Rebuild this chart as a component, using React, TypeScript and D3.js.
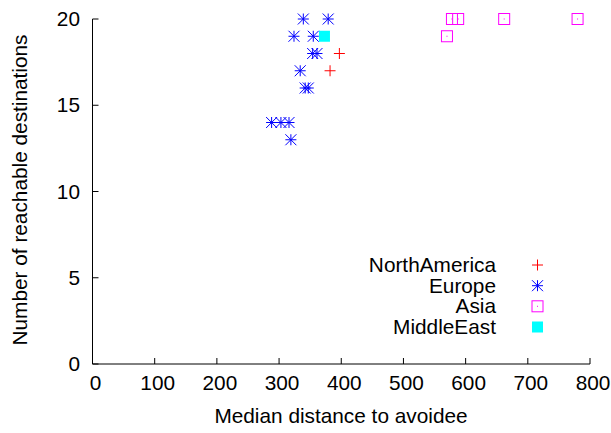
import React from "react";
import * as d3 from "d3";

const xTicks = [0, 100, 200, 300, 400, 500, 600, 700, 800];
const yTicks = [0, 5, 10, 15, 20];

const northAmericaX = [397, 382];
const northAmericaY = [18, 17];
const europeX = [339, 379, 324, 355, 354, 361, 334, 342, 347, 288, 303, 316, 319];
const europeY = [20, 20, 19, 19, 18, 18, 17, 16, 16, 14, 14, 14, 13];
const asiaX = [578, 588, 662, 780, 570];
const asiaY = [20, 20, 20, 20, 19];
const middleEastX = [373];
const middleEastY = [19];

const seriesNames = ["NorthAmerica", "Europe", "Asia", "MiddleEast"];

const W = 611;
const H = 433;
const FONT = "'Liberation Sans', Arial, Helvetica, sans-serif";
const FS = 20.8;

type Kind = "plus" | "star" | "box" | "fill";

function Marker({ x, y, kind }: { x: number; y: number; kind: Kind }) {
  const r = 5.5;
  if (kind === "plus") {
    return (
      <path d={`M${x - r},${y}H${x + r}M${x},${y - r}V${y + r}`} stroke="#ff0000" strokeWidth={1} fill="none" />
    );
  }
  if (kind === "star") {
    return (
      <path
        d={`M${x - r},${y}H${x + r}M${x},${y - r}V${y + r}M${x - r},${y - r}L${x + r},${y + r}M${x - r},${y + r}L${x + r},${y - r}`}
        stroke="#0000ff"
        strokeWidth={1}
        fill="none"
      />
    );
  }
  if (kind === "box") {
    return (
      <g>
        <rect x={x - r} y={y - r} width={2 * r} height={2 * r} stroke="#ff00ff" strokeWidth={1} fill="none" />
        <rect x={x - 0.5} y={y - 0.5} width={1} height={1} fill="#ff00ff" />
      </g>
    );
  }
  return <rect x={x - r} y={y - r} width={2 * r} height={2 * r} fill="#00ffff" />;
}

export default function App() {
  const x = d3.scaleLinear().domain([0, 800]).range([92.5, 590]);
  const y = d3.scaleLinear().domain([0, 20]).range([364, 19]);

  const series: { xs: number[]; ys: number[]; kind: Kind }[] = [
    { xs: northAmericaX, ys: northAmericaY, kind: "plus" },
    { xs: europeX, ys: europeY, kind: "star" },
    { xs: asiaX, ys: asiaY, kind: "box" },
    { xs: middleEastX, ys: middleEastY, kind: "fill" },
  ];

  const legendY = [265, 285.7, 306.3, 327];

  return (
    <svg width={W} height={H} style={{ position: "absolute", left: 0, top: 0, background: "#fff" }}>
      <rect x={0} y={0} width={W} height={H} fill="#fff" />
      <path d={`M${x(0)},${y(20)}V${y(0)}H${x(800)}`} stroke="#000" strokeWidth={1} fill="none" />
      {xTicks.map((t) => (
        <g key={"xt" + t}>
          <line x1={x(t)} x2={x(t)} y1={y(0)} y2={y(0) - 6} stroke="#000" strokeWidth={1} />
          <text x={x(t) + 3} y={390} textAnchor="middle" fontFamily={FONT} fontSize={FS} fill="#000">
            {t}
          </text>
        </g>
      ))}
      {yTicks.map((t) => (
        <g key={"yt" + t}>
          <line x1={x(0)} x2={x(0) + 6} y1={y(t)} y2={y(t)} stroke="#000" strokeWidth={1} />
          <text x={80} y={y(t) + 7} textAnchor="end" fontFamily={FONT} fontSize={FS} fill="#000">
            {t}
          </text>
        </g>
      ))}
      <text x={341} y={423} textAnchor="middle" fontFamily={FONT} fontSize={FS} fill="#000">
        Median distance to avoidee
      </text>
      <text
        transform={`translate(27,190) rotate(-90)`}
        textAnchor="middle"
        fontFamily={FONT}
        fontSize={FS}
        fill="#000"
      >
        Number of reachable destinations
      </text>
      {series.map((s, si) =>
        s.xs.map((v, i) => <Marker key={si + "-" + i} x={x(v)} y={y(s.ys[i])} kind={s.kind} />)
      )}
      {seriesNames.map((n, i) => (
        <g key={n}>
          <text x={496} y={legendY[i] + 7} textAnchor="end" fontFamily={FONT} fontSize={FS} fill="#000">
            {n}
          </text>
          <Marker x={537.5} y={legendY[i]} kind={series[i].kind} />
        </g>
      ))}
    </svg>
  );
}
